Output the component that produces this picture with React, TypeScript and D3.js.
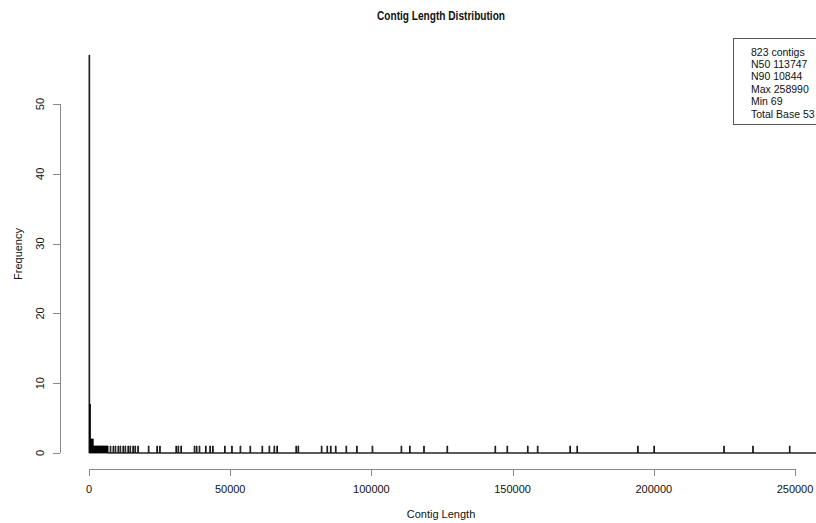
import React from "react";
import * as d3 from "d3";

// Histogram of contig lengths, bins of 250 bp
const BIN_WIDTH = 250;
const BREAK_MAX = 259000;

// Counts of the first (densely populated) bins starting at 0
const leadCounts = [
  57, 7, 2, 2, 2, 2, 1, 1, 1, 1, 1, 1, 1, 1, 1, 1, 1, 1, 1, 1, 1, 1, 1, 1, 1, 1,
];

// Lengths of the sparse contigs in the long tail
const tailLengths = [
  6730, 7610, 8500, 9384, 10269, 11154, 12039, 12925, 13810, 14695, 15580,
  16466, 17351, 21140, 24185, 25141, 30807, 31692, 32577, 37358, 38243,
  39057, 41253, 42953, 43908, 48158, 50530, 53646, 57187, 61436, 63915,
  65686, 66677, 73476, 74113, 82399, 84453, 85515, 87463, 91004, 94793,
  100459, 110728, 113747, 118731, 126946, 143765, 148191, 155344, 158885,
  170429, 172978, 194401, 200067, 224960, 235016, 248224, 258990,
];

const xTicks = [0, 50000, 100000, 150000, 200000, 250000];
const yTicks = [0, 10, 20, 30, 40, 50];
const legendLines = [
  "823 contigs",
  "N50 113747",
  "N90 10844",
  "Max 258990",
  "Min 69",
  "Total Base 53",
];

const W = 816;
const H = 523;
const FONT = "'Liberation Sans', Arial, Helvetica, sans-serif";

export default function App() {
  const x = d3.scaleLinear().domain([0, 250000]).range([89, 795]);
  const y = d3.scaleLinear().domain([0, 50]).range([453, 104]);

  const plotLeft = 60;
  const plotTop = 39;
  const plotBottom = 469;

  const breaks = d3.range(0, BREAK_MAX + BIN_WIDTH, BIN_WIDTH);
  const binned = d3
    .bin()
    .domain([0, BREAK_MAX])
    .thresholds(breaks.slice(1, -1))(tailLengths);
  const counts = binned.map((b, i) => b.length + (leadCounts[i] ?? 0));

  const y0 = y(0);
  const barPath = counts
    .map((c, i) => {
      const x0 = x(i * BIN_WIDTH);
      const x1 = x((i + 1) * BIN_WIDTH);
      const y1 = y(c);
      return `M${x0},${y0}V${y1}H${x1}V${y0}Z`;
    })
    .join("");

  const axisColor = "#8a8a8a";
  const textColor = "#111";

  return (
    <svg
      width={W}
      height={H}
      style={{ position: "absolute", left: 0, top: 0, background: "#fff" }}
      fontFamily={FONT}
    >
      <rect x={0} y={0} width={W} height={H} fill="#fff" />

      {/* title */}
      <text
        x={441}
        y={20}
        textAnchor="middle"
        fontWeight="bold"
        fontSize={12}
        textLength={128}
        lengthAdjust="spacingAndGlyphs"
        fill={textColor}
      >
        Contig Length Distribution
      </text>

      {/* histogram bars */}
      <path d={barPath} fill="none" stroke="#000" strokeWidth={0.9} />

      {/* x axis */}
      <g>
        <line
          x1={x(xTicks[0])}
          x2={x(xTicks[xTicks.length - 1])}
          y1={plotBottom + 0.5}
          y2={plotBottom + 0.5}
          stroke={axisColor}
        />
        {xTicks.map((t) => (
          <g key={t}>
            <line
              x1={Math.round(x(t)) + 0.5}
              x2={Math.round(x(t)) + 0.5}
              y1={plotBottom}
              y2={plotBottom + 7}
              stroke={axisColor}
            />
            <text
              x={x(t)}
              y={493}
              textAnchor="middle"
              fontSize={11}
              fill={textColor}
            >
              {t}
            </text>
          </g>
        ))}
        <text x={441} y={518} textAnchor="middle" fontSize={11} fill={textColor}>
          Contig Length
        </text>
      </g>

      {/* y axis */}
      <g>
        <line
          x1={plotLeft + 0.5}
          x2={plotLeft + 0.5}
          y1={y(yTicks[0])}
          y2={y(yTicks[yTicks.length - 1])}
          stroke={axisColor}
        />
        {yTicks.map((t) => (
          <g key={t}>
            <line
              x1={plotLeft - 7}
              x2={plotLeft}
              y1={Math.round(y(t)) + 0.5}
              y2={Math.round(y(t)) + 0.5}
              stroke={axisColor}
            />
            <text
              transform={`translate(44,${y(t)}) rotate(-90)`}
              textAnchor="middle"
              fontSize={11}
              fill={textColor}
            >
              {t}
            </text>
          </g>
        ))}
        <text
          transform={`translate(22,${(plotTop + plotBottom) / 2}) rotate(-90)`}
          textAnchor="middle"
          fontSize={11}
          fill={textColor}
        >
          Frequency
        </text>
      </g>

      {/* legend */}
      <g>
        <rect
          x={733.5}
          y={plotTop - 0.5}
          width={120}
          height={86}
          fill="#fff"
          stroke="#555"
          strokeWidth={1}
        />
        {legendLines.map((s, i) => (
          <text
            key={s}
            x={751}
            y={55.5 + i * 12.4}
            fontSize={10.5}
            fill={textColor}
          >
            {s}
          </text>
        ))}
      </g>
    </svg>
  );
}
